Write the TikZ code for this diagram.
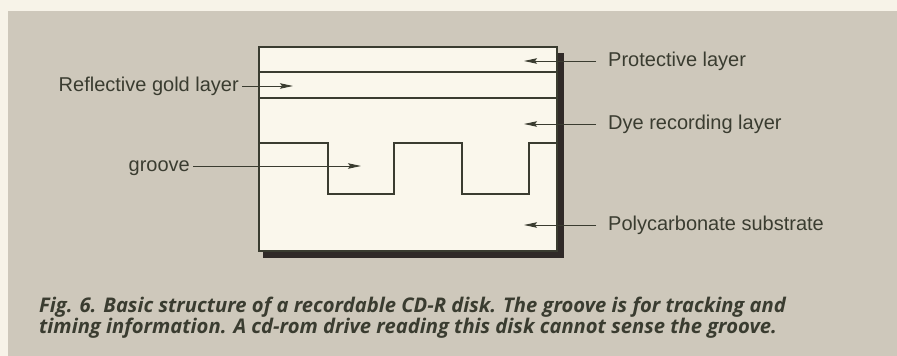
\documentclass[tikz,border=0pt]{standalone}
\usepackage{fontspec}
\setmainfont{Liberation Sans}
\newfontfamily\capfont{Open Sans}
\usetikzlibrary{arrows.meta}
\definecolor{paper}{RGB}{247,243,232}
\definecolor{panel}{RGB}{206,200,187}
\definecolor{disk}{RGB}{250,247,236}
\definecolor{ink}{RGB}{58,60,48}
\definecolor{shadowc}{RGB}{48,42,40}
\tikzset{
  lbl/.style={text=ink, font=\fontsize{20}{24}\selectfont, inner sep=3pt,
    text height=14.6pt, text depth=4.2pt},
  rlbl/.style={lbl, inner xsep=12pt, anchor=west},
  pointer/.style={draw=ink, line width=0.9pt, -{Stealth[length=13pt,width=5.5pt,inset=2pt]}},
}
\begin{document}
\begin{tikzpicture}[x=1pt,y=-1pt]
\useasboundingbox (0,0) rectangle (897,356);
\fill[paper] (0,0) rectangle (897,356);
\fill[panel] (8,11) rectangle (897,356);
% disk cross section with shadow
\fill[shadowc] (263,53) rectangle (564,258);
\filldraw[fill=disk, draw=ink, line width=1.6pt] (259,47) rectangle (557,251);
\draw[ink, line width=1.4pt] (259,72) -- (557,72);
\draw[ink, line width=1.4pt] (259,98) -- (557,98);
%groove
\draw[ink, line width=1.8pt] (259,143) -| (328,194) -| (394,143) -| (462,194) -| (529,143) -- (557,143);
% labels
\path
(242,86) node[lbl, anchor=east] (gold) {Reflective gold layer}
(193,166) node[lbl, anchor=east] (groove) {groove}
(596,61) node[rlbl] (prot) {Protective layer}
(596,124) node[rlbl] (dye) {Dye recording layer}
(596,225) node[rlbl] (poly) {Polycarbonate substrate};
\coordinate (goldtip) at (293,86);
\coordinate (groovetip) at (361,166);
\coordinate (prottip) at (524,61);
\coordinate (dyetip) at (524,124);
\coordinate (polytip) at (524,225);
\draw[pointer] (gold.east) -- (goldtip);
\draw[pointer] (groove.east) -- (groovetip);
\draw[pointer] (prot.west) -- (prottip);
\draw[pointer] (dye.west) -- (dyetip);
\draw[pointer] (poly.west) -- (polytip);
%caption
\node[text=ink, anchor=west, align=left, inner sep=0pt,
  font=\capfont\bfseries\itshape\fontsize{20.2}{18}\selectfont] (cap) at (39,318)
  {Fig. 6. Basic structure of a recordable CD-R disk. The groove is for tracking and\\
   timing information. A cd-rom drive reading this disk cannot sense the groove.};
\end{tikzpicture}
\end{document}
